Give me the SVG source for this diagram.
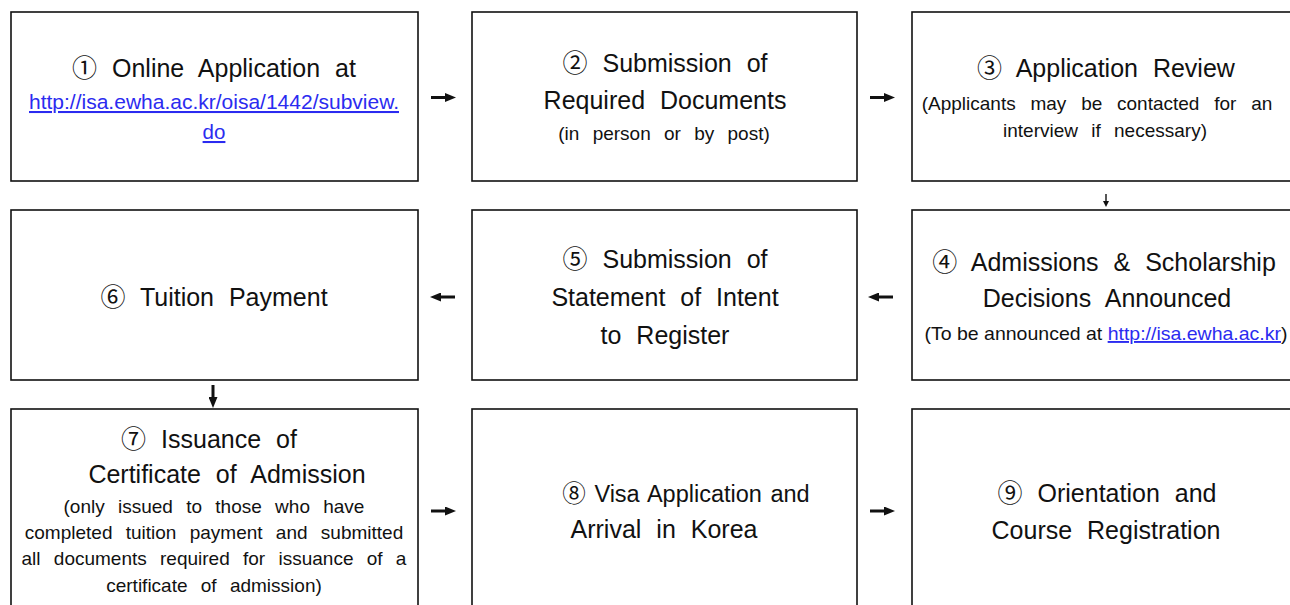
<svg xmlns="http://www.w3.org/2000/svg" width="1290" height="605" viewBox="0 0 1290 605">
<defs>
<style>
.box{fill:#fff;stroke:#111;stroke-width:1.6}
text{font-family:"Liberation Sans","Noto Sans CJK KR",sans-serif;fill:#111;text-anchor:middle}
.t{font-size:25px;word-spacing:8px}
.s{font-size:19px;word-spacing:8px}
.u{font-size:20.5px}
.lk{fill:#2b2bf0;text-decoration:underline}
.c{font-size:19px}
.ar{stroke:#111;stroke-width:3;fill:none}
.thin{stroke:#111;stroke-width:1.4;fill:none}
</style>
<marker id="ah" markerUnits="userSpaceOnUse" markerWidth="11" markerHeight="9" refX="0" refY="4.5" orient="auto">
<path d="M0,0 L11,4.5 L0,9 z" fill="#111"/>
</marker>
<marker id="ahs" markerUnits="userSpaceOnUse" markerWidth="6" markerHeight="6" refX="0" refY="3" orient="auto">
<path d="M0,0 L6,3 L0,6 z" fill="#111"/>
</marker>
</defs>
<rect width="1290" height="605" fill="#fff"/>

<g id="n1">
<rect class="box" x="11" y="12" width="407" height="169"/>
<text class="t" x="214" y="77">① Online Application at</text>
<text class="u lk" x="214" y="109" textLength="370" lengthAdjust="spacingAndGlyphs">http://isa.ewha.ac.kr/oisa/1442/subview.</text>
<text class="u lk" x="214" y="139">do</text>
</g>

<g id="n2">
<rect class="box" x="472" y="12" width="385" height="169"/>
<text class="t" x="665" y="72">② Submission of</text>
<text class="t" x="665" y="109">Required Documents</text>
<text class="s" x="664" y="140">(in person or by post)</text>
</g>

<g id="n3">
<rect class="box" x="912" y="12" width="390" height="169"/>
<text class="t" x="1106" y="77">③ Application Review</text>
<text class="s" x="1097" y="110" style="word-spacing:9.5px">(Applicants may be contacted for an</text>
<text class="s" x="1105" y="137">interview if necessary)</text>
</g>

<g id="n4">
<rect class="box" x="912" y="210" width="390" height="170"/>
<text class="t" x="1104" y="271">④ Admissions &amp; Scholarship</text>
<text class="t" x="1107" y="307">Decisions Announced</text>
<text class="c" x="1106" y="340" textLength="363" lengthAdjust="spacingAndGlyphs">(To be announced at <tspan class="lk">http://isa.ewha.ac.kr</tspan>)</text>
</g>

<g id="n5">
<rect class="box" x="472" y="210" width="385" height="170"/>
<text class="t" x="665" y="268">⑤ Submission of</text>
<text class="t" x="665" y="306">Statement of Intent</text>
<text class="t" x="665" y="344">to Register</text>
</g>

<g id="n6">
<rect class="box" x="11" y="210" width="407" height="170"/>
<text class="t" x="214" y="306">⑥ Tuition Payment</text>
</g>

<g id="n7">
<rect class="box" x="11" y="409" width="407" height="210"/>
<text class="t" x="209" y="448">⑦ Issuance of</text>
<text class="t" x="227" y="483">Certificate of Admission</text>
<text class="s" x="214" y="513">(only issued to those who have</text>
<text class="s" x="214" y="539">completed tuition payment and submitted</text>
<text class="s" x="214" y="565">all documents required for issuance of a</text>
<text class="s" x="214" y="592">certificate of admission)</text>
</g>

<g id="n8">
<rect class="box" x="472" y="409" width="385" height="210"/>
<text class="t" x="686" y="502" style="font-size:23.5px;word-spacing:2px">⑧ Visa Application and</text>
<text class="t" x="664" y="538">Arrival in Korea</text>
</g>

<g id="n9">
<rect class="box" x="912" y="409" width="390" height="210"/>
<text class="t" x="1107" y="502">⑨ Orientation and</text>
<text class="t" x="1106" y="539">Course Registration</text>
</g>

<g id="connectors">
<line class="ar" x1="431" y1="97.5" x2="445" y2="97.5" marker-end="url(#ah)"/>
<line class="ar" x1="870" y1="97.5" x2="884" y2="97.5" marker-end="url(#ah)"/>
<line class="thin" x1="1106" y1="194" x2="1106" y2="201" marker-end="url(#ahs)"/>
<line class="ar" x1="893" y1="297" x2="879" y2="297" marker-end="url(#ah)"/>
<line class="ar" x1="455" y1="297" x2="441" y2="297" marker-end="url(#ah)"/>
<line class="ar" x1="213" y1="385" x2="213" y2="397" marker-end="url(#ah)"/>
<line class="ar" x1="431" y1="511" x2="445" y2="511" marker-end="url(#ah)"/>
<line class="ar" x1="870" y1="511" x2="884" y2="511" marker-end="url(#ah)"/>
</g>
</svg>
